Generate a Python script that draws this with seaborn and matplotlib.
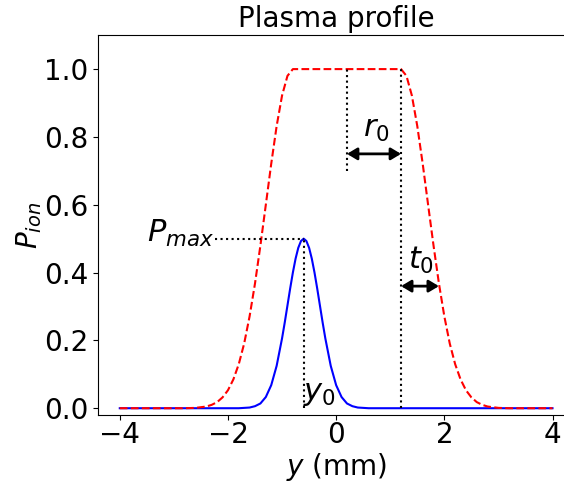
import numpy as np
import pandas as pd
import matplotlib
matplotlib.use("Agg")
import matplotlib.pyplot as plt
import seaborn as sns

# values
# red dashed: flat-top ionisation profile
red_y = [-4.0, -2.8, -2.6, -2.5, -2.4, -2.3, -2.2, -2.1, -2.0, -1.9, -1.8, -1.7,
         -1.6, -1.5, -1.4, -1.3, -1.2, -1.1, -1.0, -0.9, -0.8,
         1.2, 1.3, 1.4, 1.5, 1.6, 1.7, 1.8, 1.9, 2.0, 2.1, 2.2, 2.3, 2.4, 2.5,
         2.6, 2.7, 2.8, 2.9, 3.0, 3.2, 4.0]
red_p = [0.0, 0.0, 0.001, 0.003, 0.005, 0.010, 0.018, 0.032, 0.053, 0.085, 0.130, 0.191,
         0.271, 0.368, 0.480, 0.600, 0.721, 0.832, 0.922, 0.980, 1.0,
         1.0, 0.980, 0.922, 0.832, 0.721, 0.600, 0.480, 0.368, 0.271, 0.191, 0.130, 0.085, 0.053, 0.032,
         0.018, 0.010, 0.005, 0.003, 0.001, 0.0, 0.0]

# blue solid: gaussian peak
blue_y = [-4.0, -1.8, -1.6, -1.5, -1.4, -1.3, -1.2, -1.1, -1.0, -0.95, -0.9, -0.85,
          -0.8, -0.75, -0.7, -0.65, -0.6, -0.55, -0.5, -0.45, -0.4, -0.35, -0.3,
          -0.25, -0.2, -0.1, 0.0, 0.1, 0.2, 0.3, 0.4, 0.6, 4.0]
blue_p = [0.0, 0.0, 0.002, 0.006, 0.014, 0.033, 0.068, 0.125, 0.206, 0.253, 0.303, 0.353,
          0.400, 0.441, 0.473, 0.493, 0.5, 0.493, 0.473, 0.441, 0.400, 0.353, 0.303,
          0.253, 0.206, 0.125, 0.068, 0.033, 0.014, 0.006, 0.002, 0.0, 0.0]

# annotation parameters
y0 = -0.6
p_max = 0.5
r_center = 0.2
r0 = 1.0
t0 = 0.7

red_df = pd.DataFrame({"y": red_y, "p": red_p})
blue_df = pd.DataFrame({"y": blue_y, "p": blue_p})

fig = plt.figure(figsize=(5.64, 4.82), dpi=100)
ax = fig.add_axes([0.174, 0.139, 0.844, 0.788])

sns.lineplot(data=blue_df, x="y", y="p", color="blue", lw=1.5, estimator=None, ax=ax)
sns.lineplot(data=red_df, x="y", y="p", color="red", lw=1.5, linestyle="--", estimator=None, ax=ax)

# dotted guides
edge = r_center + r0
ax.plot([-2.24, y0], [p_max, p_max], ":", color="black", lw=1.5)
ax.plot([y0, y0], [0, p_max], ":", color="black", lw=1.5)
ax.plot([r_center, r_center], [0.70, 1.0], ":", color="black", lw=1.5)
ax.plot([edge, edge], [0, 1.0], ":", color="black", lw=1.5)

# arrows
arrow = dict(arrowstyle="<|-|>,head_length=0.5,head_width=0.3", color="black",
             lw=2, mutation_scale=12, shrinkA=0, shrinkB=0)
ax.annotate("", xy=(r_center, 0.75), xytext=(edge, 0.75), arrowprops=arrow)
ax.annotate("", xy=(edge, 0.36), xytext=(edge + t0, 0.36), arrowprops=arrow)

ax.text(-2.25, p_max - 0.01, "$P_{max}$", fontsize=22, ha="right", va="baseline")
ax.text(y0 - 0.02, 0.0, "$y_0$", fontsize=22, ha="left", va="bottom")
ax.text(0.5, 0.78, "$r_0$", fontsize=22, ha="left", va="bottom")
ax.text(1.32, 0.39, "$t_0$", fontsize=22, ha="left", va="bottom")

ax.set_xlim(-4.4, 4.4)
ax.set_ylim(-0.02, 1.1)
ax.set_xticks([-4, -2, 0, 2, 4])
ax.set_yticks([0.0, 0.2, 0.4, 0.6, 0.8, 1.0])
ax.tick_params(labelsize=20)
ax.tick_params(axis="x", pad=1)
ax.spines["right"].set_visible(False)
ax.set_xlabel("$y$ (mm)", fontsize=20, labelpad=1)
ax.set_ylabel("$P_{ion}$", fontsize=20, labelpad=0)
ax.set_title("Plasma profile", fontsize=20)

fig.savefig("out.png", dpi=100)
